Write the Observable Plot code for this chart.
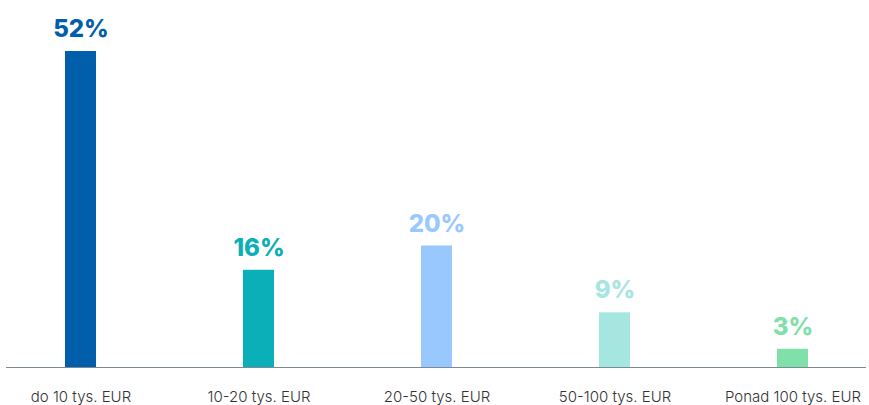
<!DOCTYPE html>
<html>
<head>
<meta charset="utf-8">
<script src="https://cdn.jsdelivr.net/npm/d3@7"></script>
<script src="https://cdn.jsdelivr.net/npm/@observablehq/plot@0.6"></script>
<style>
  html, body { margin: 0; padding: 0; background: #fff; }
  #chart svg { display: block; }
</style>
</head>
<body>
<div id="chart"></div>
<script>
const categories = ["do 10 tys. EUR", "10-20 tys. EUR", "20-50 tys. EUR", "50-100 tys. EUR", "Ponad 100 tys. EUR"];
const values = [52, 16, 20, 9, 3];
const colors = ["#005EAA", "#0BAFB7", "#99C8FF", "#A6E6E1", "#80E0A9"];

const data = categories.map((c, i) => ({category: c, value: values[i], color: colors[i]}));

const chart = Plot.plot({
  width: 869,
  height: 405,
  marginLeft: 6,
  marginRight: 3,
  marginTop: 51,
  marginBottom: 38,
  style: {fontFamily: "Inter, 'Open Sans', sans-serif", background: "#fff"},
  x: {domain: categories, paddingInner: 0.8266, paddingOuter: 0.32, label: null},
  y: {domain: [0, 52], axis: null},
  marks: [
    Plot.barY(data, {x: "category", y: "value", fill: "color"}),
    Plot.ruleY([0], {stroke: "#7D8A94", strokeWidth: 1.2}),
    Plot.text(data, {
      x: "category", y: "value", text: d => d.value + "%", fill: "color",
      dy: -22, fontSize: 24, fontWeight: 800, textAnchor: "middle", lineAnchor: "middle"
    }),
    Plot.axisX({tickSize: 0, tickPadding: 24, fontSize: 15, fontWeight: 300, fill: "#333333", label: null})
  ]
});
document.getElementById("chart").appendChild(chart);
</script>
</body>
</html>
